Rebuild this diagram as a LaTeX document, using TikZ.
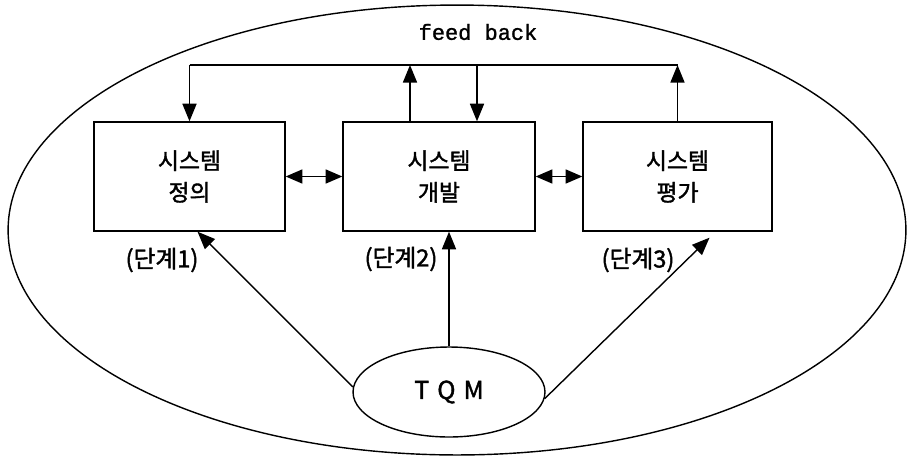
\documentclass[tikz,border=0pt]{standalone}
\usepackage{fontspec}
\usetikzlibrary{arrows.meta,shapes.geometric,calc}
\newfontfamily\kr{Noto Sans CJK KR}[FakeBold=1.6]
\newfontfamily\fbmono{Liberation Mono}[FakeBold=1.2]
\begin{document}
\begin{tikzpicture}[x=0.02cm,y=-0.02cm,
  line width=0.8pt,
  tip/.style={-{Triangle[length=10pt,width=8pt]}},
  dtip/.style={{Triangle[length=9.5pt,width=8pt]}-{Triangle[length=9.5pt,width=8pt]}},
  stagebox/.style={draw,rectangle,minimum height=2.18cm,inner sep=0pt,
    align=center,font=\kr\fontsize{13pt}{18pt}\selectfont},
  stagelabel/.style={font=\kr\fontsize{13.5pt}{15pt}\selectfont,inner sep=1pt}]
\useasboundingbox (0,0) rectangle (909,457);

% enclosing ellipse
\node[draw,ellipse,minimum width=17.96cm,minimum height=9.0cm,inner sep=0pt] (outer) at (457,230) {};

% title of the feedback loop
\node[font=\fbmono\fontsize{12.5pt}{14pt}\selectfont] (fbtitle) at (478,32) {feed back};

% three stage boxes
\node[stagebox,minimum width=3.82cm] (s1) at (189.5,176.5) {시스템\\정의};
\node[stagebox,minimum width=3.84cm] (s2) at (439,176.5) {시스템\\개발};
\node[stagebox,minimum width=3.78cm] (s3) at (677.5,176.5) {시스템\\평가};

% stage labels
\node[stagelabel] (l1) at (162,260) {(단계1)};
\node[stagelabel] (l2) at (401,259) {(단계2)};
\node[stagelabel] (l3) at (638,260) {(단계3)};

% TQM
\node[draw,ellipse,minimum width=3.84cm,minimum height=1.8cm,inner sep=0pt,
  font=\kr\fontsize{14pt}{16pt}\selectfont] (tqm) at (449,392) {T\,\,Q\,\,M};

% feedback loop
\coordinate (fb) at (0,65);
\coordinate (xu) at (410,65);
\coordinate (xd) at (477,65);
\draw (s1.north |- fb) -- (s3.north |- fb);
\draw[tip] (s1.north |- fb) -- (s1.north);
\draw[tip] (xd) -- (xd |- s2.north);
\draw[tip] (xu |- s2.north) -- (xu);
\draw[tip] (s3.north) -- (s3.north |- fb);

% links between stages
\draw[dtip] (s1.east) -- (s2.west);
\draw[dtip] (s2.east) -- (s3.west);

% TQM influences each stage
\draw[tip] (tqm.177) -- ($(s1.south)+(8,0)$);
\draw[tip] (tqm.north) -- (tqm.north |- s2.south);
\draw[tip] (tqm.-4) -- ($(s3.south)+(32,6)$);
\end{tikzpicture}
\end{document}
